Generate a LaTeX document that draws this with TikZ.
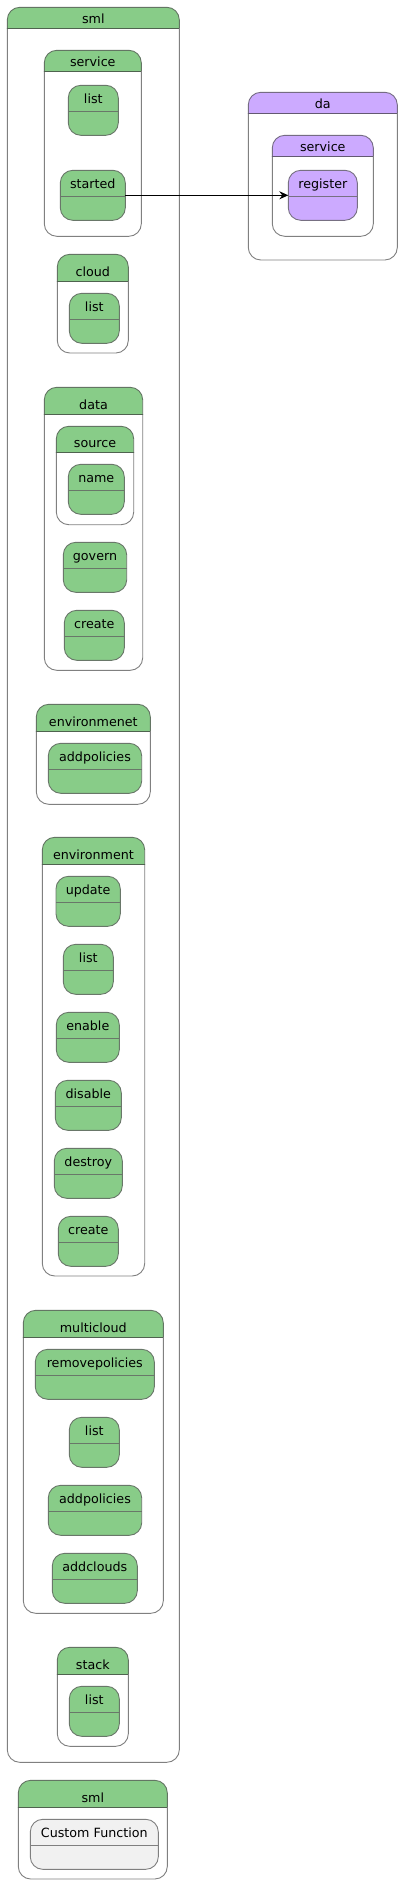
\documentclass[tikz,border=0pt]{standalone}
\usepackage{fontspec}
\setmainfont{DejaVu Sans}
\usetikzlibrary{arrows.meta,calc}
\definecolor{smlgreen}{HTML}{88CC88}
\definecolor{dapurple}{HTML}{CCAAFF}
\definecolor{cfgray}{HTML}{F1F1F1}
\definecolor{boxline}{HTML}{808080}
\tikzset{
  compbox/.style={draw=none, fill=white, rounded corners=12.5bp, inner sep=0pt, outer sep=0pt},
  compline/.style={draw=boxline, line width=0.9bp, rounded corners=12.5bp},
  leafbox/.style={rounded corners=12.5bp, inner sep=0pt, outer sep=0pt, line width=0.9bp},
  lbl/.style={inner sep=0pt, font=\fontsize{12.7bp}{15bp}\selectfont, text=black},
  flow/.style={line width=0.9bp, draw=black, -{Stealth[length=9bp,width=8bp,inset=3bp]}},
}
% leaf state: name, fill, x1, y1, x2, y2, text
\newcommand{\leafst}[7]{%
  \node[leafbox, fill=#2, draw=#2!30!black!70, minimum width={(#5-#3)*1bp}, minimum height={(#6-#4)*1bp}, anchor=north west] (#1) at (#3,#4) {};
  \draw[line width=0.9bp, draw=#2!30!black!70] ([yshift=-26bp]#1.north west) -- ([yshift=-26bp]#1.north east);
  \node[lbl, anchor=base] (#1-t) at ($(#1.north)+(0,17.8)$) {#7};
}
% composite state: name, fill, x1, y1, x2, y2, header height, title
\newcommand{\compst}[8]{%
  \node[compbox, minimum width={(#5-#3)*1bp}, minimum height={(#6-#4)*1bp}, anchor=north west] (#1) at (#3,#4) {};
  \begin{scope}
    \clip (#3-2,#4-2) rectangle (#5+2,#4+#7);
    \fill[#2, rounded corners=12.5bp] (#1.north west) rectangle (#1.south east);
    \draw[line width=0.9bp, draw=#2!35!black!75, rounded corners=12.5bp] (#1.north west) rectangle (#1.south east);
  \end{scope}
  \begin{scope}
    \clip (#3-2,#4+#7) rectangle (#5+2,#6+2);
    \draw[compline] (#1.north west) rectangle (#1.south east);
  \end{scope}
  \draw[line width=0.9bp, draw=#2!35!black!85] ([yshift=-#7bp]#1.north west) -- ([yshift=-#7bp]#1.north east);
  \node[lbl, anchor=base] (#1-t) at ($(#1.north)+(0,#7-4.8)$) {#8};
}
\begin{document}
\begin{tikzpicture}[x=1bp, y=-1bp]
\useasboundingbox (0,0) rectangle (403,1884);
\fill[white] (0,0) rectangle (403,1884);

% outer sml
\compst{sml}{smlgreen}{7.3}{7.3}{179.3}{1762.3}{21.3}{sml}

% service
\compst{svc}{smlgreen}{44.3}{50.3}{141.3}{236.3}{21}{service}
\leafst{svclist}{smlgreen}{68.3}{85.3}{118.3}{135.3}{list}
\leafst{started}{smlgreen}{60.3}{170.3}{125.3}{220.3}{started}

% cloud
\compst{cloud}{smlgreen}{57.3}{254.3}{128.3}{353}{27}{cloud}
\leafst{cloudlist}{smlgreen}{69.3}{293.3}{119.3}{343.3}{list}

% data
\compst{data}{smlgreen}{44.3}{387.3}{142.7}{670.3}{27}{data}
\compst{source}{smlgreen}{56.3}{426.3}{133.7}{524.7}{26}{source}
\leafst{name}{smlgreen}{68.3}{464.3}{124.3}{514.3}{name}
\leafst{govern}{smlgreen}{63.3}{542.3}{126.7}{592.3}{govern}
\leafst{datacreate}{smlgreen}{64.3}{610.3}{124.3}{660.3}{create}

% environmenet
\compst{envnet}{smlgreen}{36.3}{704.3}{150.3}{804.3}{27}{environmenet}
\leafst{envnetadd}{smlgreen}{48.3}{743.3}{141.7}{793.3}{addpolicies}

% environment
\compst{env}{smlgreen}{42.3}{837.3}{144.7}{1276}{27}{environment}
\leafst{envupdate}{smlgreen}{56}{876.3}{120.3}{926.3}{update}
\leafst{envlist}{smlgreen}{63.3}{944.3}{113.3}{994.3}{list}
\leafst{envenable}{smlgreen}{56.3}{1012.3}{119.3}{1062.3}{enable}
\leafst{envdisable}{smlgreen}{55.3}{1080.3}{121.3}{1130.3}{disable}
\leafst{envdestroy}{smlgreen}{54.3}{1148.3}{122.3}{1198.3}{destroy}
\leafst{envcreate}{smlgreen}{58.3}{1216.3}{118.3}{1266.3}{create}

% multicloud
\compst{mc}{smlgreen}{23.3}{1310.3}{163.3}{1613.3}{27}{multicloud}
\leafst{mcremove}{smlgreen}{35.3}{1349.3}{154.3}{1399.3}{removepolicies}
\leafst{mclist}{smlgreen}{69.3}{1417.3}{119.3}{1467.3}{list}
\leafst{mcadd}{smlgreen}{48.3}{1485.3}{141.7}{1535.3}{addpolicies}
\leafst{mcclouds}{smlgreen}{52.3}{1553.3}{137.3}{1603.3}{addclouds}

% stack
\compst{stack}{smlgreen}{57.3}{1647.3}{128.3}{1746.3}{27}{stack}
\leafst{stacklist}{smlgreen}{69.3}{1686.3}{119.3}{1736.3}{list}

% da
\compst{da}{dapurple}{248.3}{92.3}{397.3}{260}{21}{da}
\compst{dasvc}{dapurple}{272.3}{135.3}{373.3}{236.3}{21}{service}
\leafst{register}{dapurple}{288.3}{170.3}{357.3}{220.3}{register}

% legend sml
\compst{sml2}{smlgreen}{18.3}{1780.3}{167.3}{1879}{27}{sml}
\leafst{custom}{cfgray}{30.3}{1819.3}{158.3}{1869.3}{Custom Function}

% connector
\draw[flow] (started) -- (register);
\end{tikzpicture}
\end{document}
